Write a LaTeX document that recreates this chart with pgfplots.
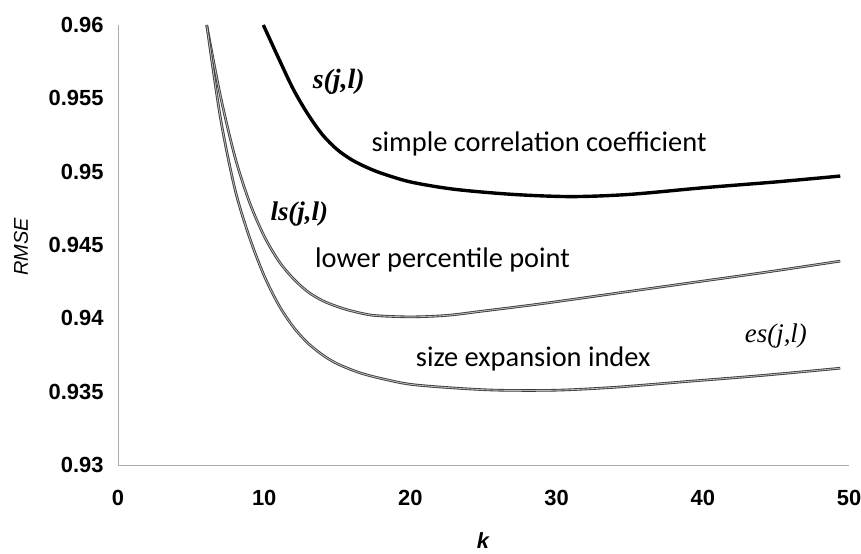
\documentclass[border=0pt]{standalone}
\usepackage{pgfplots}
\pgfplotsset{compat=1.18}
\usepackage{fontspec}
\setmainfont{Liberation Sans}
\newfontfamily\calib{Carlito}
\newfontfamily\tnr{Liberation Serif}
\begin{document}
\begin{tikzpicture}[x=1bp,y=1bp]
\path[use as bounding box] (-118,-89) rectangle (743,465);
\begin{axis}[
  at={(0,0)}, anchor=south west,
  width=731bp, height=440bp, scale only axis,
  xmin=0, xmax=50, ymin=0.93, ymax=0.96,
  xtick={0,10,20,30,40,50},
  ytick={0.93,0.935,0.94,0.945,0.95,0.955,0.96},
  yticklabels={0.93,0.935,0.94,0.945,0.95,0.955,0.96},
  xticklabels={0,10,20,30,40,50},
  axis lines*=left,
  axis line style={gray!65, line width=0.8bp, -},
  major tick length=0pt,
  tick label style={font=\fontsize{22}{24}\selectfont\bfseries},
  xticklabel style={yshift=-22bp},
  yticklabel style={xshift=-11bp},
  clip=true,
]
\addplot[black, line width=3.4bp, smooth, tension=0.5] coordinates {
(9.94,0.960)(11,0.9577)(12,0.9556)(13,0.9539)(14,0.9525)(15,0.9515)(16,0.9508)(17,0.9503)(18,0.9499)(20,0.9493)(23,0.9488)(27,0.94845)(31,0.9483)(35,0.94845)(40,0.9489)(45,0.9493)(49.4,0.9497)};
\addplot[draw=gray!45!black, double=gray!55, double distance=0.9bp, line width=0.85bp, smooth, tension=0.5] coordinates {
(6.07,0.960)(7,0.9552)(8,0.9510)(9,0.9479)(10,0.9456)(11,0.9439)(12,0.9427)(13,0.9418)(14,0.9412)(15,0.9408)(16,0.9405)(17.5,0.9402)(20,0.9401)(22.5,0.9402)(25,0.9405)(29,0.9410)(34,0.9417)(39,0.9424)(44,0.9431)(49.4,0.9439)};
\addplot[draw=gray!45!black, double=gray!55, double distance=0.9bp, line width=0.85bp, smooth, tension=0.5] coordinates {
(6.07,0.960)(7,0.9537)(8,0.9488)(9,0.9455)(10,0.9429)(11,0.9409)(12,0.9394)(13,0.9383)(14,0.9375)(15,0.9369)(16.5,0.9363)(18,0.9359)(20,0.9355)(23,0.93525)(26,0.9351)(30,0.9351)(34,0.9353)(39,0.9357)(44,0.9361)(49.4,0.9366)};
\node[font=\tnr\fontsize{28}{30}\selectfont\bfseries\itshape] at (axis cs:15.1,0.9561) {s(j,l)};
\node[font=\calib\fontsize{28.5}{30}\selectfont] at (axis cs:28.8,0.9519) {simple correlation coefficient};
\node[font=\tnr\fontsize{27}{29}\selectfont\bfseries\itshape] at (axis cs:12.4,0.9471) {ls(j,l)};
\node[font=\calib\fontsize{28.5}{30}\selectfont] at (axis cs:22.2,0.9440) {lower percentile point};
\node[font=\calib\fontsize{28.5}{30}\selectfont] at (axis cs:28.4,0.9372) {size expansion index};
\node[font=\tnr\fontsize{27}{29}\selectfont\itshape] at (axis cs:45.0,0.9388) {es(j,l)};
\end{axis}
\node[rotate=90, font=\fontsize{20}{22}\selectfont\itshape] at (-97,218) {RMSE};
\node[font=\fontsize{22}{24}\selectfont\bfseries\itshape] at (365,-76) {k};
\end{tikzpicture}
\end{document}
